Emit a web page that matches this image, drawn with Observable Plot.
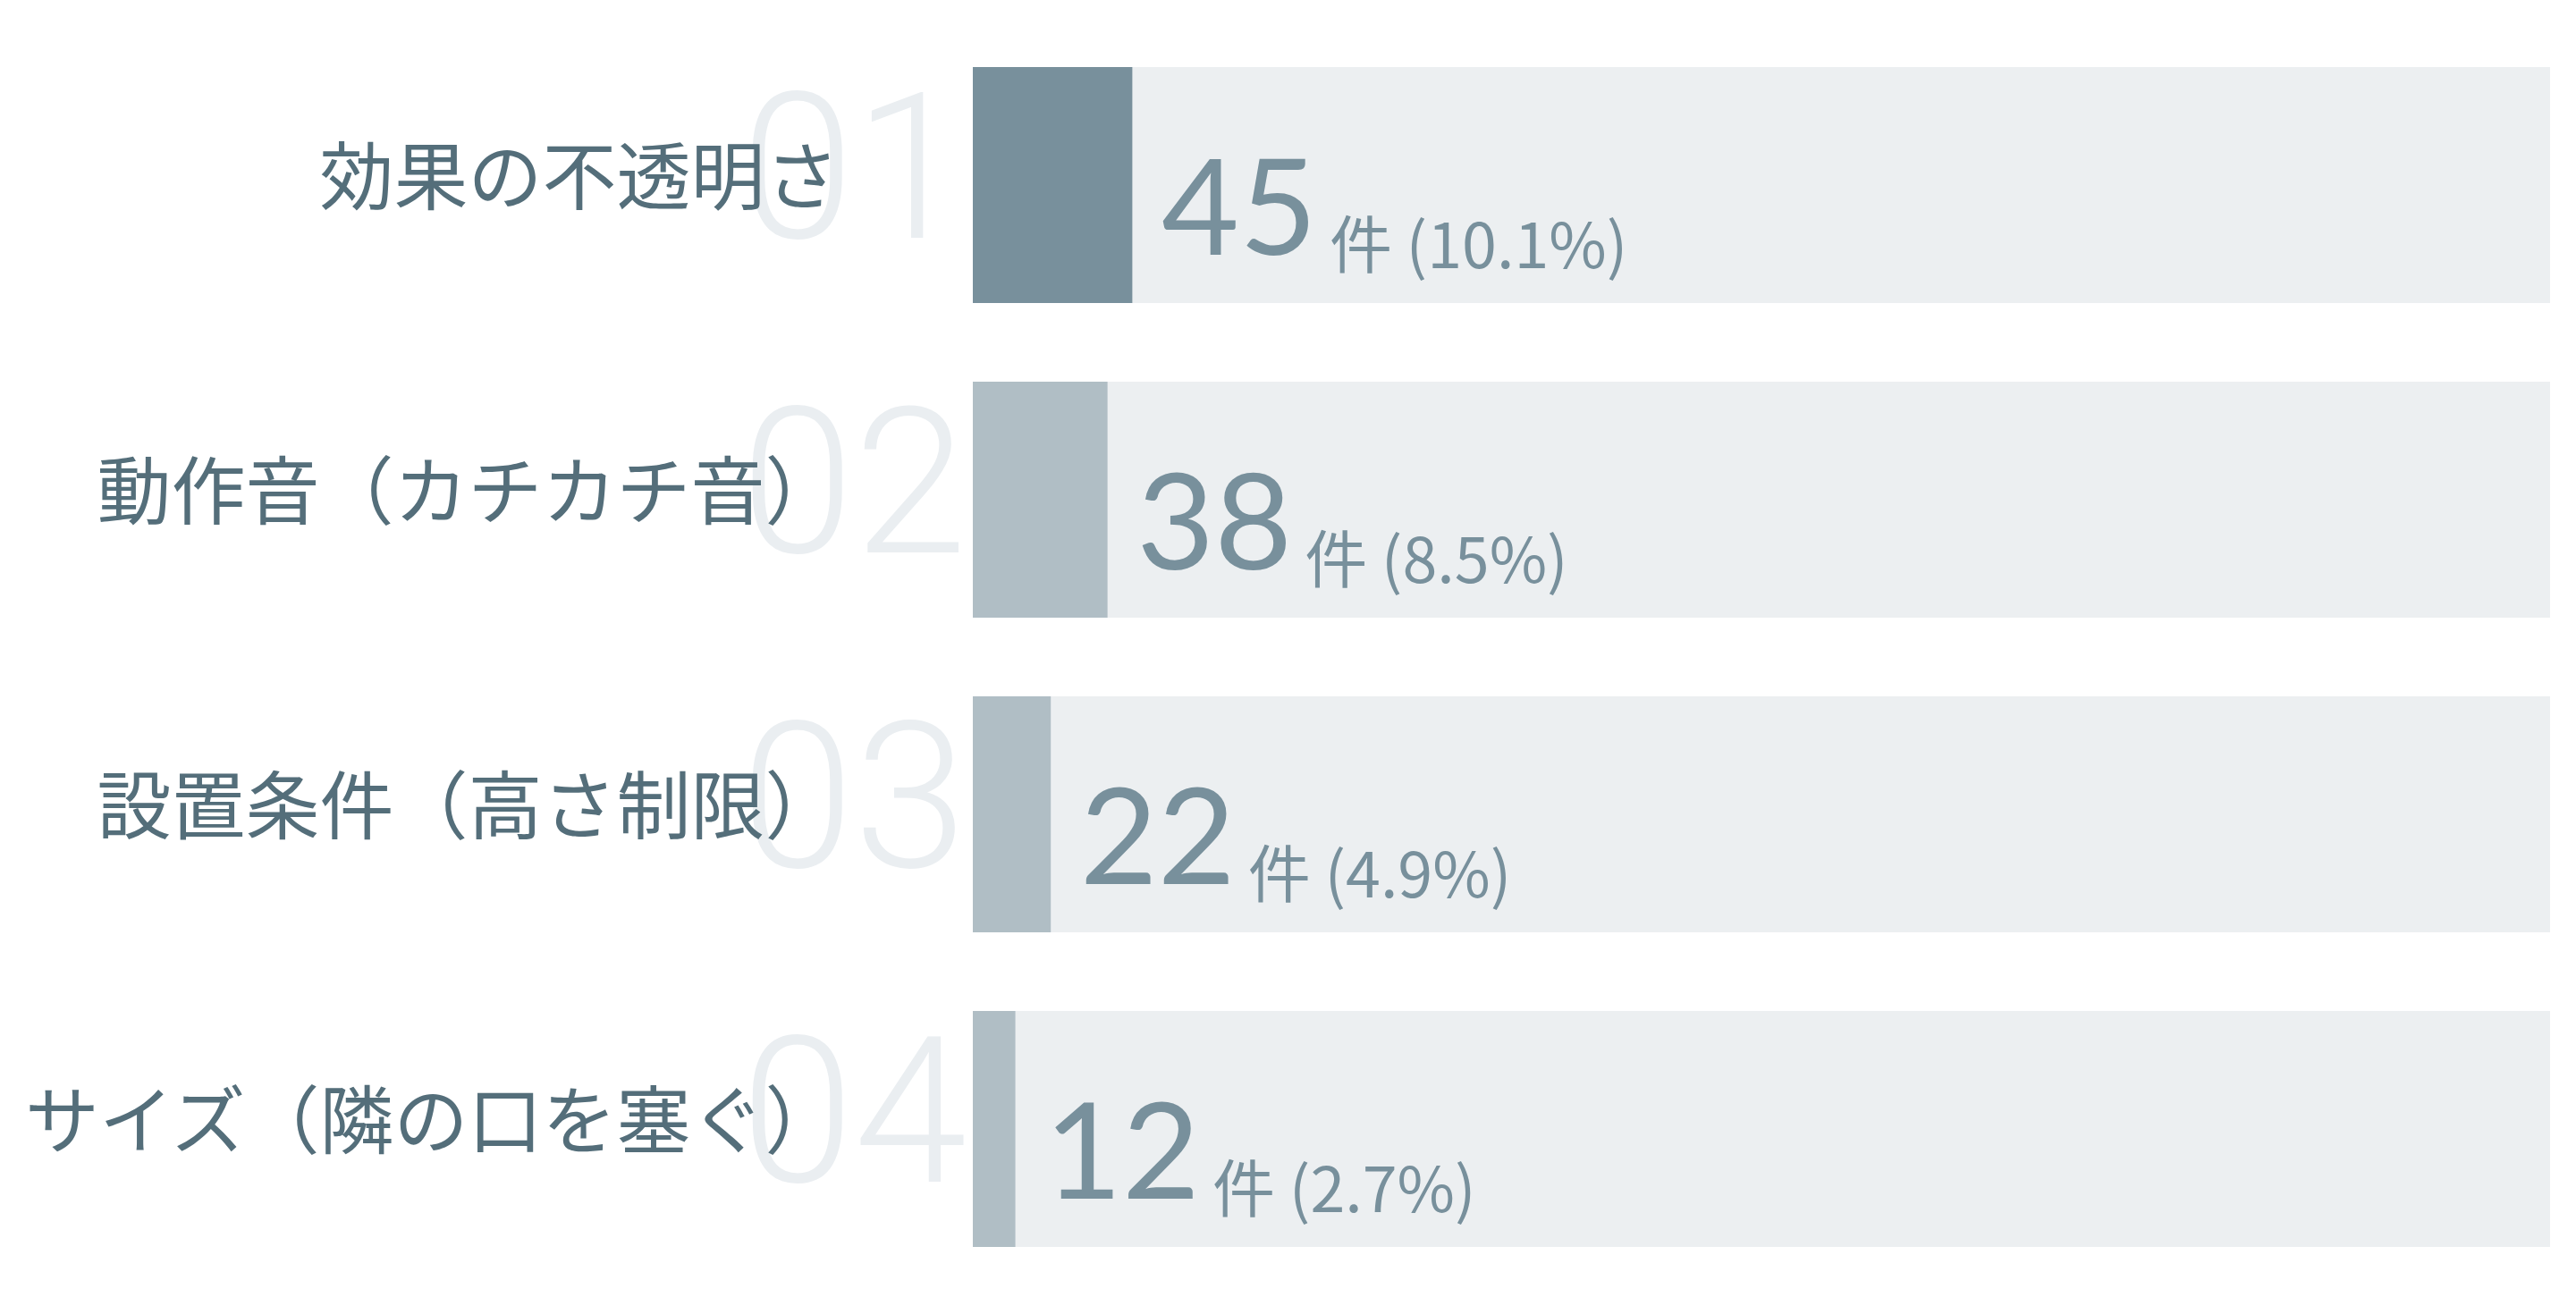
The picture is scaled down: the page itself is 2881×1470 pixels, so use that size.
<!DOCTYPE html>
<html>
<head>
<meta charset="utf-8">
<script src="https://cdn.jsdelivr.net/npm/d3@7"></script>
<script src="https://cdn.jsdelivr.net/npm/@observablehq/plot@0.6"></script>
<style>
  html, body { margin: 0; padding: 0; background: #ffffff; }
  #chart svg { display: block; }
</style>
</head>
<body>
<div id="chart"></div>
<script>
const categories = ["効果の不透明さ", "動作音（カチカチ音）", "設置条件（高さ制限）", "サイズ（隣の口を塞ぐ）"];
const ranks = ["01", "02", "03", "04"];
const counts = [45, 38, 22, 12];
const percents = ["10.1%", "8.5%", "4.9%", "2.7%"];
const total = 445;

const data = categories.map((c, i) => ({
  category: c,
  rank: ranks[i],
  count: counts[i],
  pct: percents[i],
  color: i === 0 ? "#78909c" : "#b0bec5"
}));

const chart = Plot.plot({
  width: 2881,
  height: 1470,
  marginTop: 74,
  marginBottom: 74,
  marginLeft: 1088,
  marginRight: 29,
  style: { background: "#ffffff", fontFamily: "'Noto Sans CJK JP', sans-serif" },
  x: { domain: [0, total], axis: null },
  y: { domain: categories, axis: null, paddingInner: 0.25, paddingOuter: 0 },
  marks: [
    Plot.barX(data, { y: "category", x1: 0, x2: () => total, fill: "#eceff1" }),
    Plot.barX(data, { y: "category", x1: 0, x2: "count", fill: "color" }),
    Plot.text(data, {
      y: "category", text: "rank", frameAnchor: "left", textAnchor: "start",
      dx: -260, dy: 58, lineAnchor: "bottom", fontSize: 228, fontWeight: 300,
      fill: "#eaeef1", fontFamily: "Roboto, Lato, sans-serif"
    }),
    Plot.text(data, {
      y: "category", text: "category", frameAnchor: "left", textAnchor: "end",
      dx: -150, dy: -6, fontSize: 83, fill: "#546e7a",
      fontFamily: "'Noto Sans CJK JP', sans-serif"
    }),
    Plot.text(data, {
      x: "count", y: "category", text: d => String(d.count), textAnchor: "start",
      dx: 32, dy: 77, lineAnchor: "bottom", fontSize: 150, fill: "#78909c",
      fontFamily: "Lato, 'Noto Sans', sans-serif"
    }),
    Plot.text(data, {
      x: "count", y: "category", text: d => `件 (${d.pct})`, textAnchor: "start",
      dx: 220, dy: 92, lineAnchor: "bottom", fontSize: 70, fill: "#78909c",
      fontFamily: "'Noto Sans CJK JP', sans-serif"
    })
  ]
});
document.getElementById("chart").appendChild(chart);
</script>
</body>
</html>
